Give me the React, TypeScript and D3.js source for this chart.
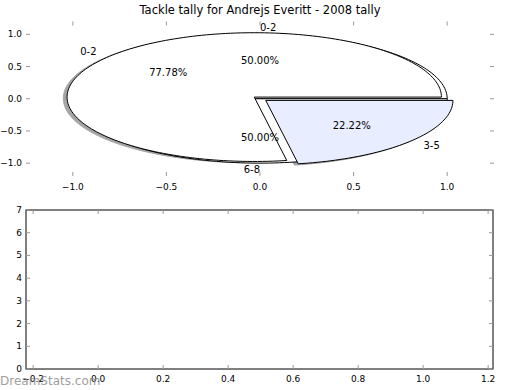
import React from "react";
import * as d3 from "d3";

const chartTitle = "Tackle tally for Andrejs Everitt - 2008 tally";

// first pie (drawn on top, with shadow and explode)
const pieALabels = ["0-2", "3-5"];
const pieAValues = [7, 2];
const pieAColors = ["#ffffff", "#e8eeff"];
const pieAExplode = [0.04, 0.04];

// second pie (drawn underneath)
const pieBLabels = ["0-2", "6-8"];
const pieBValues = [1, 1];
const pieBColors = ["#ffffff", "#ffffff"];

const pieTicks = [-1.0, -0.5, 0.0, 0.5, 1.0];
const barYTicks = [0, 1, 2, 3, 4, 5, 6, 7];
const barXTicks = [-0.2, 0.0, 0.2, 0.4, 0.6, 0.8, 1.0, 1.2];

const W = 520;
const H = 390;
const FONT = "DejaVu Sans, sans-serif";

type Pt = [number, number];

const App: React.FC = () => {
  // top axes (pie)
  const x = d3.scaleLinear().domain([-1.25, 1.25]).range([26, 494]);
  const y = d3.scaleLinear().domain([-1.2, 1.2]).range([176, 21.5]);

  // bottom axes (empty bar chart)
  const bx = d3.scaleLinear().domain([-0.222, 1.215]).range([26, 493]);
  const by = d3.scaleLinear().domain([0, 7]).range([369, 210]);

  const line = d3
    .line<Pt>()
    .x((d) => x(d[0]))
    .y((d) => y(d[1]));

  const wedgePath = (cx: number, cy: number, a0: number, a1: number) => {
    const n = Math.max(4, Math.ceil(((a1 - a0) / (2 * Math.PI)) * 240));
    const pts: Pt[] = [[cx, cy]];
    for (let i = 0; i <= n; i++) {
      const t = a0 + ((a1 - a0) * i) / n;
      pts.push([cx + Math.cos(t), cy + Math.sin(t)]);
    }
    pts.push([cx, cy]);
    return line(pts) + "Z";
  };

  const pie = d3
    .pie<number>()
    .sort(null)
    .startAngle(0)
    .endAngle(2 * Math.PI);

  const build = (
    values: number[],
    labels: string[],
    colors: string[],
    explode: number[]
  ) => {
    const total = d3.sum(values);
    return pie(values).map((a, i) => {
      const mid = (a.startAngle + a.endAngle) / 2;
      const cx = explode[i] * Math.cos(mid);
      const cy = explode[i] * Math.sin(mid);
      const lx = cx + 1.1 * Math.cos(mid);
      const ly = cy + 1.1 * Math.sin(mid);
      return {
        d: wedgePath(cx, cy, a.startAngle, a.endAngle),
        shadow: wedgePath(cx - 0.02, cy - 0.02, a.startAngle, a.endAngle),
        color: colors[i],
        label: labels[i],
        lx,
        ly,
        anchor: lx > 0 ? "start" : "end",
        px: cx + 0.6 * Math.cos(mid),
        py: cy + 0.6 * Math.sin(mid),
        pct: ((values[i] / total) * 100).toFixed(2) + "%",
      };
    });
  };

  const wedgesA = build(pieAValues, pieALabels, pieAColors, pieAExplode);
  const wedgesB = build(pieBValues, pieBLabels, pieBColors, [0, 0]);

  const shade = (c: string) => {
    const rgb = d3.rgb(c);
    return d3.rgb(rgb.r * 0.3, rgb.g * 0.3, rgb.b * 0.3).toString();
  };

  const tickColor = "#999";
  const fmt = (t: number) => d3.format(".1f")(t).replace("-", "\u2212");

  return (
    <svg
      width={W}
      height={H}
      style={{ position: "absolute", left: 0, top: 0, background: "#fff" }}
      fontFamily={FONT}
    >
      <rect width={W} height={H} fill="#fff" />

      <text x={260} y={14} textAnchor="middle" fontSize={11.5} fill="#000">
        {chartTitle}
      </text>

      {/* shadows of the first pie */}
      {wedgesA.map((w, i) => (
        <path
          key={"s" + i}
          d={w.shadow}
          fill={shade(w.color)}
          stroke={shade(w.color)}
          opacity={0.5}
        />
      ))}

      {/* second pie underneath */}
      {wedgesB.map((w, i) => (
        <path key={"b" + i} d={w.d} fill={w.color} stroke="#000" strokeWidth={1} />
      ))}

      {/* first pie */}
      {wedgesA.map((w, i) => (
        <path key={"a" + i} d={w.d} fill={w.color} stroke="#000" strokeWidth={1} />
      ))}

      {/* labels */}
      {[...wedgesA, ...wedgesB].map((w, i) => (
        <g key={"t" + i} fontSize={10} fill="#000">
          <text x={x(w.lx)} y={y(w.ly)} textAnchor={w.anchor} dominantBaseline="central">
            {w.label}
          </text>
          <text x={x(w.px)} y={y(w.py)} textAnchor="middle" dominantBaseline="central">
            {w.pct}
          </text>
        </g>
      ))}

      {/* top axes ticks (frame off) */}
      <g stroke={tickColor} strokeWidth={1}>
        {pieTicks.map((t) => (
          <g key={"pt" + t}>
            <line x1={26} x2={30} y1={y(t)} y2={y(t)} />
            <line x1={490} x2={494} y1={y(t)} y2={y(t)} />
            <line x1={x(t)} x2={x(t)} y1={21.5} y2={25.5} />
            <line x1={x(t)} x2={x(t)} y1={172} y2={176} />
          </g>
        ))}
      </g>
      <g fontSize={9} fill="#000">
        {pieTicks.map((t) => (
          <text
            key={"ply" + t}
            x={22}
            y={y(t)}
            textAnchor="end"
            dominantBaseline="central"
          >
            {fmt(t)}
          </text>
        ))}
        {pieTicks.map((t) => (
          <text key={"plx" + t} x={x(t)} y={190} textAnchor="middle">
            {fmt(t)}
          </text>
        ))}
      </g>

      {/* bottom axes */}
      <rect x={26} y={210} width={467} height={159} fill="none" stroke="#000" strokeWidth={1} />
      <g stroke={tickColor} strokeWidth={1}>
        {barYTicks.map((t) => (
          <g key={"by" + t}>
            <line x1={26} x2={30} y1={by(t)} y2={by(t)} />
            <line x1={489} x2={493} y1={by(t)} y2={by(t)} />
          </g>
        ))}
        {barXTicks.map((t) => (
          <g key={"bx" + t}>
            <line x1={bx(t)} x2={bx(t)} y1={210} y2={214} />
            <line x1={bx(t)} x2={bx(t)} y1={365} y2={369} />
          </g>
        ))}
      </g>
      <g fontSize={9} fill="#000">
        {barYTicks.map((t) => (
          <text key={"byl" + t} x={22} y={by(t)} textAnchor="end" dominantBaseline="central">
            {t}
          </text>
        ))}
        {barXTicks.map((t) => (
          <text key={"bxl" + t} x={bx(t)} y={382} textAnchor="middle">
            {fmt(t)}
          </text>
        ))}
      </g>

      <text x={0} y={385} fontSize={12} fill="#888" opacity={0.8}>
        DreamStats.com
      </text>
    </svg>
  );
};

export default App;
